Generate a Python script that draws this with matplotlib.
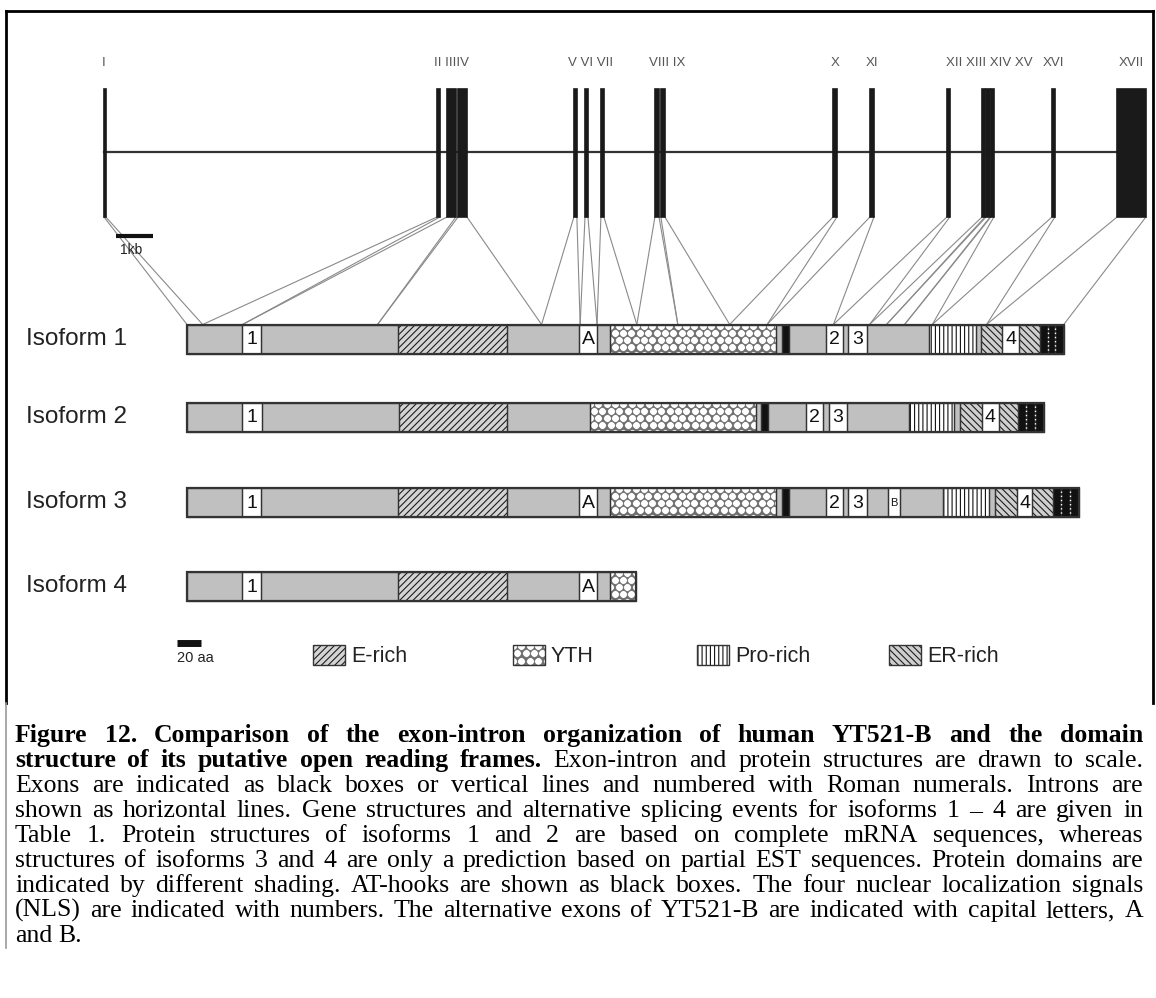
import matplotlib
matplotlib.use('Agg')
import matplotlib.pyplot as plt
from matplotlib.patches import Rectangle
import numpy as np

plt.rcParams['hatch.linewidth'] = 0.8

# ---- gene structure (kb from start of exon I) ----
EXON_NAMES = ['I', 'II', 'III', 'IV', 'V', 'VI', 'VII', 'VIII', 'IX', 'X',
              'XI', 'XII', 'XIII', 'XIV', 'XV', 'XVI', 'XVII']
EXON_START = [0.00, 9.00, 9.27, 9.57, 12.70, 13.00, 13.43, 14.89, 15.05, 19.70,
              20.70, 22.78, 23.73, 23.84, 23.97, 25.62, 27.38]
EXON_END = [0.05, 9.08, 9.51, 9.81, 12.78, 13.08, 13.51, 15.00, 15.16, 19.81,
            20.81, 22.86, 23.81, 23.95, 24.05, 25.70, 28.16]
# protein position (aa) where each exon boundary falls on isoform 1
EXON_AA = [0, 13, 46, 158, 294, 326, 340, 373, 407, 450, 481, 536, 566, 580,
           595, 618, 663, 727]
# grouped numeral labels, as printed
LABEL_TEXT = ['I', 'II IIIIV', 'V VI VII', 'VIII IX', 'X', 'XI',
              'XII XIII XIV XV', 'XVI', 'XVII']
LABEL_KB = [0.0, 9.38, 13.16, 15.22, 19.76, 20.76, 23.92, 25.66, 27.76]

# ---- protein isoforms (aa) ----
ISO1 = [(0, 46, 'plain', ''), (46, 61, 'box', '1'), (61, 175, 'plain', ''),
        (175, 265, 'E', ''), (265, 325, 'plain', ''), (325, 340, 'box', 'A'),
        (340, 351, 'plain', ''), (351, 488, 'YTH', ''), (488, 493, 'plain', ''),
        (493, 499, 'AT', ''), (499, 530, 'plain', ''), (530, 544, 'box', '2'),
        (544, 548, 'plain', ''), (548, 564, 'box', '3'), (564, 615, 'plain', ''),
        (615, 654, 'Pro', ''), (654, 658, 'plain', ''), (658, 676, 'ER', ''),
        (676, 690, 'box', '4'), (690, 707, 'ER', ''), (707, 714, 'AT', ''),
        (714, 720, 'AT', ''), (720, 727, 'AT', '')]
ISO2 = [(0, 46, 'plain', ''), (46, 62, 'box', '1'), (62, 176, 'plain', ''),
        (176, 265, 'E', ''), (265, 334, 'plain', ''), (334, 472, 'YTH', ''),
        (472, 476, 'plain', ''), (476, 482, 'AT', ''), (482, 513, 'plain', ''),
        (513, 527, 'box', '2'), (527, 532, 'plain', ''), (532, 547, 'box', '3'),
        (547, 599, 'plain', ''), (599, 636, 'Pro', ''), (636, 641, 'plain', ''),
        (641, 659, 'ER', ''), (659, 673, 'box', '4'), (673, 689, 'ER', ''),
        (689, 696, 'AT', ''), (696, 703, 'AT', ''), (703, 711, 'AT', '')]
ISO3 = [(0, 46, 'plain', ''), (46, 61, 'box', '1'), (61, 175, 'plain', ''),
        (175, 265, 'E', ''), (265, 325, 'plain', ''), (325, 340, 'box', 'A'),
        (340, 351, 'plain', ''), (351, 488, 'YTH', ''), (488, 493, 'plain', ''),
        (493, 499, 'AT', ''), (499, 530, 'plain', ''), (530, 544, 'box', '2'),
        (544, 548, 'plain', ''), (548, 564, 'box', '3'), (564, 581, 'plain', ''),
        (581, 591, 'box', 'B'), (591, 627, 'plain', ''), (627, 665, 'Pro', ''),
        (665, 670, 'plain', ''), (670, 688, 'ER', ''), (688, 701, 'box', '4'),
        (701, 718, 'ER', ''), (718, 725, 'AT', ''), (725, 732, 'AT', ''),
        (732, 740, 'AT', '')]
ISO4 = [(0, 46, 'plain', ''), (46, 61, 'box', '1'), (61, 175, 'plain', ''),
        (175, 265, 'E', ''), (265, 325, 'plain', ''), (325, 340, 'box', 'A'),
        (340, 351, 'plain', ''), (351, 372, 'YTH', '')]
ISOFORMS = [ISO1, ISO2, ISO3, ISO4]
ISO_NAMES = ['Isoform 1', 'Isoform 2', 'Isoform 3', 'Isoform 4']

LEGEND_KINDS = ['E', 'YTH', 'Pro', 'ER']
LEGEND_NAMES = ['E-rich', 'YTH', 'Pro-rich', 'ER-rich']

CAPTION = [
    [("Figure 12. Comparison of the exon-intron organization of human YT521-B and the domain", True)],
    [("structure of its putative open reading frames.", True),
     ("Exon-intron and protein structures are drawn to scale.", False)],
    [("Exons are indicated as black boxes or vertical lines and numbered with Roman numerals. Introns are", False)],
    [("shown as horizontal lines. Gene structures and alternative splicing events for isoforms 1 \u2013 4 are given in", False)],
    [("Table 1. Protein structures of isoforms 1 and 2 are based on complete mRNA sequences, whereas", False)],
    [("structures of isoforms 3 and 4 are only a prediction based on partial EST sequences. Protein domains are", False)],
    [("indicated by different shading. AT-hooks are shown as black boxes. The four nuclear localization signals", False)],
    [("(NLS) are indicated with numbers. The alternative exons of YT521-B are indicated with capital letters, A", False)],
    [("and B.", False)],
]

# ---- layout (canvas pixels) ----
W, H = 1156, 998
GENE_X0, PX_PER_KB = 104, 37.0
EXON_TOP, EXON_BOT, INTRON_Y, NUM_Y = 89, 217, 152, 63
PROT_X0, PX_PER_AA = 187, 1.206
ISO_Y = [339, 417, 502, 586]
BAR_H = 29

STYLE = {
    'plain': dict(fc='#c0c0c0', hatch=None, hc='#333333'),
    'box': dict(fc='white', hatch=None, hc='#333333'),
    'E': dict(fc='#d4d4d4', hatch='/////', hc='#1e1e1e'),
    'YTH': dict(fc='#6e6e6e', hatch=None, hc='#333333'),
    'Pro': dict(fc='white', hatch='||||', hc='#111111'),
    'ER': dict(fc='#cfcfcf', hatch='\\\\\\\\\\', hc='#1e1e1e'),
    'AT': dict(fc='#111111', hatch=None, hc='#111111'),
}
SANS = 'Liberation Sans'
SERIF = 'Liberation Serif'


def gx(kb):
    return GENE_X0 + kb * PX_PER_KB


def px(aa):
    return PROT_X0 + aa * PX_PER_AA


def draw_patch(ax, x, y, w, h, kind, lw=0.9):
    st = STYLE[kind]
    base = Rectangle((x, y), w, h, facecolor=st['fc'], edgecolor=st['hc'],
                     hatch=st['hatch'], lw=0, zorder=3)
    ax.add_patch(base)
    if kind == 'YTH':
        # honeycomb of white cells, clipped to the box
        d = 8.4
        rows = np.arange(y + 1, y + h + d, d * 0.866)
        xs, ys = [], []
        for j, ry in enumerate(rows):
            off = (d / 2) * (j % 2)
            for cx in np.arange(x - d + off, x + w + d, d):
                xs.append(cx)
                ys.append(ry)
        sc = ax.scatter(xs, ys, s=30, marker='o', facecolor='white',
                        edgecolor='#666666', linewidths=0.4, zorder=3.5)
        sc.set_clip_path(base)
    ax.add_patch(Rectangle((x, y), w, h, fill=False, edgecolor='#333333',
                           lw=lw, zorder=4))


fig = plt.figure(figsize=(W / 100, H / 100), dpi=100)
ax = fig.add_axes([0, 0, 1, 1])
ax.set_xlim(0, W)
ax.set_ylim(H, 0)
ax.axis('off')

# frame
ax.plot([6, W - 3], [11, 11], color='black', lw=2)
ax.plot([6, 6], [11, 703], color='black', lw=2)
ax.plot([W - 3, W - 3], [11, 703], color='black', lw=2)
ax.plot([6, 6], [703, 948], color='#999999', lw=1.2)

# gene: intron line, exons, numerals
ax.plot([gx(EXON_START[0]), gx(EXON_START[-1])], [INTRON_Y, INTRON_Y],
        color='#333333', lw=1.6, zorder=2)
for s, e in zip(EXON_START, EXON_END):
    ax.add_patch(Rectangle((gx(s), EXON_TOP), gx(e) - gx(s), EXON_BOT - EXON_TOP,
                           facecolor='#1a1a1a', edgecolor='#1a1a1a', lw=1.2, zorder=3))
for t, kb in zip(LABEL_TEXT, LABEL_KB):
    ax.text(gx(kb), NUM_Y, t, ha='center', va='center', fontsize=9.5,
            color='#555555', family=SANS)

# 1kb scale bar
ax.plot([gx(0.32), gx(1.32)], [236, 236], color='#111111', lw=3, solid_capstyle='butt')
ax.text(gx(0.43), 250, '1kb', ha='left', va='center', fontsize=10,
        color='#222222', family=SANS)

# exon -> protein connectors on isoform 1
top1 = ISO_Y[0] - BAR_H / 2
for k in range(len(EXON_START)):
    ax.plot([gx(EXON_START[k]), px(EXON_AA[k])], [EXON_BOT, top1],
            color='#8a8a8a', lw=0.8, zorder=1)
    ax.plot([gx(EXON_END[k]), px(EXON_AA[k + 1])], [EXON_BOT, top1],
            color='#8a8a8a', lw=0.8, zorder=1)

# isoforms
for name, segs, yc in zip(ISO_NAMES, ISOFORMS, ISO_Y):
    y0 = yc - BAR_H / 2
    ax.text(26, yc, name, ha='left', va='center', fontsize=17.5,
            color='#222222', family=SANS)
    prev_kind = None
    for s, e, kind, lab in segs:
        draw_patch(ax, px(s), y0, px(e) - px(s), BAR_H, kind)
        if kind == 'AT' and prev_kind == 'AT':
            ax.plot([px(s), px(s)], [y0 + 3, y0 + BAR_H - 3], color='white',
                    ls=(0, (1, 2)), lw=1, zorder=5)
        if lab:
            fs = 8 if lab == 'B' else 14
            ax.text((px(s) + px(e)) / 2, yc + 1, lab, ha='center', va='center',
                    fontsize=fs, color='#111111', family=SANS, zorder=6)
        prev_kind = kind
    ax.add_patch(Rectangle((px(segs[0][0]), y0), px(segs[-1][1]) - px(segs[0][0]),
                           BAR_H, fill=False, edgecolor='#333333', lw=1.6, zorder=5))

# legend
ax.plot([177, 177 + 20 * PX_PER_AA], [643, 643], color='#111111', lw=5,
        solid_capstyle='butt')
ax.text(177, 658, '20 aa', ha='left', va='center', fontsize=10.5,
        color='#222222', family=SANS)
for kind, lab, lx in zip(LEGEND_KINDS, LEGEND_NAMES, [313, 513, 697, 889]):
    draw_patch(ax, lx, 645, 32, 20, kind, lw=1.0)
    ax.text(lx + 38, 657, lab, ha='left', va='center', fontsize=15.5,
            color='#222222', family=SANS)

# caption, justified between the frame margins
renderer = fig.canvas.get_renderer()
X_LEFT, X_RIGHT, Y_FIRST, LEAD, CAP_FS = 15, 1143, 742, 25, 18.5
for i, line in enumerate(CAPTION):
    y = Y_FIRST + i * LEAD
    words = []
    for seg, bold in line:
        for w in seg.split(' '):
            words.append(ax.text(0, y, w, ha='left', va='baseline', fontsize=CAP_FS,
                                 family=SERIF, color='black',
                                 fontweight='bold' if bold else 'normal'))
    widths = [t.get_window_extent(renderer=renderer).width for t in words]
    space = CAP_FS * 0.25 * 100 / 72
    if i < len(CAPTION) - 1 and len(words) > 1:
        gap = max(3, (X_RIGHT - X_LEFT - sum(widths)) / (len(words) - 1))
    else:
        gap = space
    x = X_LEFT
    for t, w in zip(words, widths):
        t.set_x(x)
        x += w + gap

fig.savefig('out.png', dpi=100)
